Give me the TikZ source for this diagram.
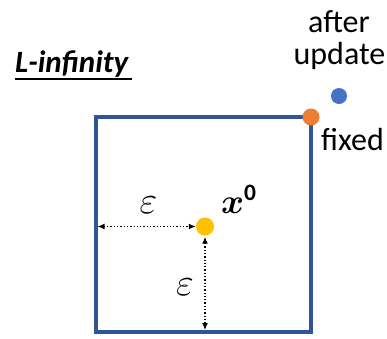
\documentclass[tikz,border=0pt]{standalone}
\usepackage{fontspec}
\usepackage{amsmath,bm}
\setmainfont{Carlito}
\usetikzlibrary{arrows.meta}
\definecolor{boxblue}{HTML}{2F5597}
\definecolor{dotyellow}{HTML}{FFC000}
\definecolor{dotorange}{HTML}{ED7D31}
\definecolor{dotblue}{HTML}{4472C4}
\tikzset{
  dimarrow/.style={dotted, line width=1.3pt, {Latex[length=7pt,width=6pt]}-{Latex[length=7pt,width=6pt]}},
  dotstyle/.style={circle, inner sep=0pt, minimum size=#1},
  txt/.style={font=\fontsize{32}{35}\selectfont, inner sep=0pt, align=center},
  mathlbl/.style={font=\fontsize{24}{28}\selectfont, inner sep=0pt}
}
\begin{document}
\begin{tikzpicture}[x=1pt,y=-1pt]
\useasboundingbox (0,0) rectangle (387,338);
% square
\draw[boxblue, line width=4pt] (95.5,117) rectangle (311,332);
\coordinate (leftedge) at (97.5,226.5);
\coordinate (bottomedge) at (205,330);
% dots
\node[dotstyle=18pt, fill=dotyellow] (x0) at (205,226.5) {};
\node[dotstyle=17pt, fill=dotorange] (fixeddot) at (311,117) {};
\node[dotstyle=16pt, fill=dotblue] (upddot) at (339,96) {};
% arrows
\draw[dimarrow] (leftedge) -- (x0.west);
\draw[dimarrow] (x0.south) ++(0,1) coordinate (x0s) (x0s) -- (bottomedge);
% labels
\node[mathlbl] (eps1) at (148.5,205) {\scalebox{1.55}{$\varepsilon$}};
\node[mathlbl] (eps2) at (185,287) {\scalebox{1.55}{$\varepsilon$}};
\node[mathlbl, anchor=base west] (x0lbl) at (221,213) {\scalebox{1.4}{$\bm{x}^{\mathbf{0}}$}};
\node[txt, anchor=base west, font=\fontsize{31}{34}\selectfont] (title) at (15,72) {\bfseries\itshape L-infinity};
\draw[line width=1.3pt] (15,79) -- (132,79);
\node[txt, anchor=base] (after) at (339,32) {after};
\node[txt, anchor=base] (update) at (339.5,64) {update};
\node[txt, anchor=base west] (fixed) at (321,150) {fixed};
\end{tikzpicture}
\end{document}
